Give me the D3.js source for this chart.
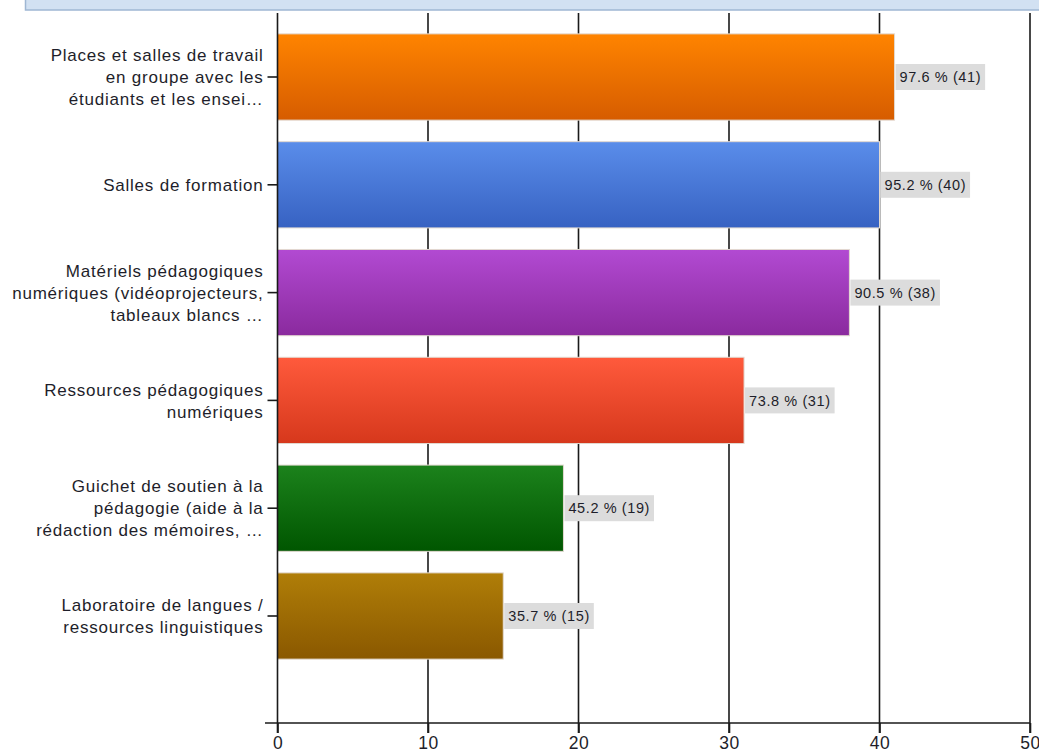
<!DOCTYPE html>
<html>
<head>
<meta charset="utf-8">
<script src="https://cdn.jsdelivr.net/npm/d3@7"></script>
<style>
html,body{margin:0;padding:0;background:#fff;}
svg{display:block;}
text{font-family:"Liberation Sans",Arial,sans-serif;}
</style>
</head>
<body>
<svg id="chart" width="1039" height="753"></svg>
<script>
const categories = [
  "Places et salles de travail\nen groupe avec les\nétudiants et les ensei…",
  "Salles de formation",
  "Matériels pédagogiques\nnumériques (vidéoprojecteurs,\ntableaux blancs …",
  "Ressources pédagogiques\nnumériques",
  "Guichet de soutien à la\npédagogie (aide à la\nrédaction des mémoires, …",
  "Laboratoire de langues /\nressources linguistiques"
];
const counts = [41, 40, 38, 31, 19, 15];
const percents = [97.6, 95.2, 90.5, 73.8, 45.2, 35.7];
const colorsTop = ["#ff8400", "#5a8dea", "#b24ad2", "#ff5a3c", "#1c821c", "#b07e08"];
const colorsBottom = ["#d65c00", "#3762c2", "#8a2a9e", "#d6381c", "#005600", "#8a5800"];
const xTicks = [0, 10, 20, 30, 40, 50];

const svg = d3.select("#chart");
const plotTop = 13, axisY = 723, x0 = 277.5, x1 = 1030;

const x = d3.scaleLinear().domain([0, 50]).range([x0, x1]);
const y = d3.scaleBand().domain(d3.range(categories.length))
  .range([23.1, 669.9]).paddingInner(0.2).paddingOuter(0.1);

// header band (cut off title panel)
svg.append("rect").attr("x", 25.5).attr("y", -5).attr("width", 1030).attr("height", 15)
  .attr("fill", "#d2e1f2").attr("stroke", "#9fb7d3").attr("stroke-width", 1.5);

// gradients
const defs = svg.append("defs");
categories.forEach((c, i) => {
  const g = defs.append("linearGradient").attr("id", "g" + i)
    .attr("x1", 0).attr("y1", 0).attr("x2", 0).attr("y2", 1);
  g.append("stop").attr("offset", "0%").attr("stop-color", colorsTop[i]);
  g.append("stop").attr("offset", "100%").attr("stop-color", colorsBottom[i]);
});

// vertical gridlines
svg.append("g").selectAll("line").data(xTicks.filter(d => d > 0)).join("line")
  .attr("x1", d => x(d)).attr("x2", d => x(d))
  .attr("y1", plotTop).attr("y2", axisY + 10)
  .attr("stroke", "#1a1a1a").attr("stroke-width", 1.6);

// bars
svg.append("g").selectAll("rect").data(counts).join("rect")
  .attr("x", x(0)).attr("y", (d, i) => y(i))
  .attr("width", d => x(d) - x(0)).attr("height", y.bandwidth())
  .attr("fill", (d, i) => `url(#g${i})`)
  .attr("stroke", "#e2d9d0").attr("stroke-width", 1);

// value labels
const lab = svg.append("g").selectAll("g").data(counts).join("g")
  .attr("transform", (d, i) => `translate(${x(d) + 1},${y(i) + y.bandwidth() / 2})`);
lab.each(function (d, i) {
  const g = d3.select(this);
  const t = g.append("text").attr("x", 4).attr("y", 0).attr("dy", "0.36em")
    .attr("font-size", 14.5).attr("letter-spacing", 0.6).attr("fill", "#1e1e2a")
    .text(`${percents[i].toFixed(1)} % (${d})`);
  const w = t.node().getComputedTextLength();
  g.insert("rect", "text").attr("x", 0).attr("y", -13).attr("width", w + 8).attr("height", 26)
    .attr("fill", "#dcdcdc");
});

// y axis line
svg.append("line").attr("x1", x0).attr("x2", x0).attr("y1", plotTop).attr("y2", axisY + 10)
  .attr("stroke", "#1a1a1a").attr("stroke-width", 1.6);

// category ticks & labels
const cat = svg.append("g").selectAll("g").data(categories).join("g")
  .attr("transform", (d, i) => `translate(${x0},${y(i) + y.bandwidth() / 2})`);
cat.append("line").attr("x1", -10).attr("x2", 0).attr("stroke", "#1a1a1a").attr("stroke-width", 1.6);
cat.each(function (d) {
  const lines = d.split("\n");
  const lh = 22;
  const t = d3.select(this).append("text").attr("text-anchor", "end")
    .attr("font-size", 17).attr("letter-spacing", 0.78).attr("fill", "#1e1e2a");
  lines.forEach((l, k) => {
    t.append("tspan").attr("x", -14)
      .attr("y", (k - (lines.length - 1) / 2) * lh).attr("dy", "0.36em").text(l);
  });
});

// x axis
const xAxis = d3.axisBottom(x).tickValues(xTicks).tickSize(10).tickSizeOuter(0).tickPadding(4);
const ax = svg.append("g").attr("transform", `translate(0,${axisY})`).call(xAxis);
ax.select(".domain").remove();
ax.selectAll(".tick line").attr("stroke", "#1a1a1a").attr("stroke-width", 1.6);
ax.selectAll(".tick text").attr("font-size", 17.5).attr("letter-spacing", 0.5).attr("fill", "#1e1e2a")
  .attr("font-family", "'Liberation Sans',Arial,sans-serif");
svg.append("line").attr("x1", 265).attr("x2", x1).attr("y1", axisY).attr("y2", axisY)
  .attr("stroke", "#1a1a1a").attr("stroke-width", 1.6);
</script>
</body>
</html>
